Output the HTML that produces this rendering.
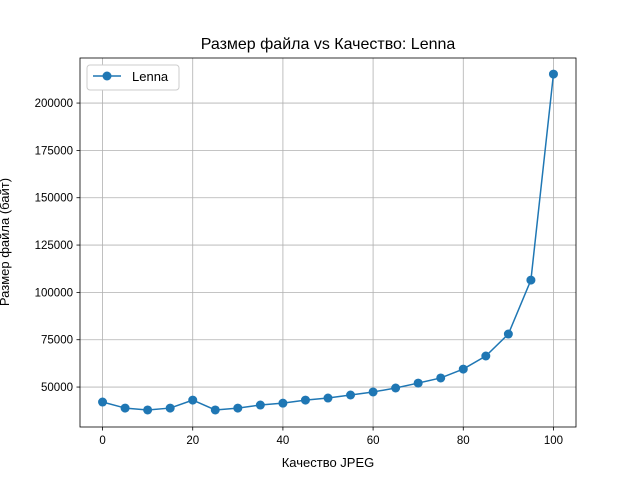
<!DOCTYPE html>
<html><head><meta charset="utf-8"><style>
body{margin:0;background:#fff;}
svg{font-family:"Liberation Sans","DejaVu Sans",sans-serif;}
</style></head><body>
<svg id="chart" width="640" height="480" xmlns="http://www.w3.org/2000/svg">
<rect width="640" height="480" fill="#fff"/>
<g id="grid"></g>
<g id="axes"></g>
<g id="series"></g>
<text x="328" y="49" text-anchor="middle" font-size="16">Размер файла vs Качество: Lenna</text>
<text x="328" y="467" text-anchor="middle" font-size="13">Качество JPEG</text>
<text transform="translate(9,242) rotate(-90)" text-anchor="middle" font-size="13">Размер файла (байт)</text>
<g>
<rect x="87" y="65" width="92" height="25" rx="3" fill="#fff" stroke="#ccc"/>
<line x1="93" y1="76" x2="121" y2="76" stroke="#1f77b4" stroke-width="1.5"/>
<circle cx="107" cy="76" r="4.5" fill="#1f77b4"/>
<text x="132" y="81" font-size="13">Lenna</text>
</g>
</svg>
<script>
const categories=[0,5,10,15,20,25,30,35,40,45,50,55,60,65,70,75,80,85,90,95,100];
const sizes=[42100,38900,37900,38900,43100,37900,38900,40500,41500,43100,44200,45800,47400,49500,52100,54800,59500,66400,78000,106500,215300];
const xTicks=[0,20,40,60,80,100];
const yTicks=[50000,75000,100000,125000,150000,175000,200000];
const L=80,R=576,T=58,B=427;
const xMin=-5,xMax=105,yMin=28900,yMax=223800;
const xs=v=>L+(v-xMin)/(xMax-xMin)*(R-L);
const ys=v=>B-(v-yMin)/(yMax-yMin)*(B-T);
const NS="http://www.w3.org/2000/svg";
function mk(tag,attrs,parent){const e=document.createElementNS(NS,tag);for(const k in attrs)e.setAttribute(k,attrs[k]);parent.appendChild(e);return e;}
const grid=document.getElementById('grid'),axes=document.getElementById('axes'),series=document.getElementById('series');
xTicks.forEach(t=>{const x=xs(t);
 const g=mk('line',{x1:x,x2:x,y1:T,y2:B,stroke:'#b0b0b0','stroke-width':0.8},grid);
 
 
 mk('line',{x1:x,x2:x,y1:B,y2:B+3.5,stroke:'#000','stroke-width':0.8},axes);
 const tx=mk('text',{x:x,y:B+17,'text-anchor':'middle','font-size':11.5},axes);tx.textContent=t;
 
 
});
yTicks.forEach(t=>{const y=ys(t);
 const g=mk('line',{x1:L,x2:R,y1:y,y2:y,stroke:'#b0b0b0','stroke-width':0.8},grid);
 
 
 mk('line',{x1:L-3.5,x2:L,y1:y,y2:y,stroke:'#000','stroke-width':0.8},axes);
 const tx=mk('text',{x:L-7,y:y+4,'text-anchor':'end','font-size':11.5},axes);tx.textContent=t;
 
 
});
const frame=mk('rect',{x:L,y:T,width:R-L,height:B-T,fill:'none',stroke:'#000','stroke-width':0.8},axes);


const pl=mk('polyline',{points:categories.map((c,i)=>xs(c)+','+ys(sizes[i])).join(' '),fill:'none',stroke:'#1f77b4','stroke-width':1.5},series);


categories.forEach((c,i)=>{const p=mk('circle',{cx:xs(c),cy:ys(sizes[i]),r:4.5,fill:'#1f77b4'},series);
 
 
});
</script>
</body></html>
